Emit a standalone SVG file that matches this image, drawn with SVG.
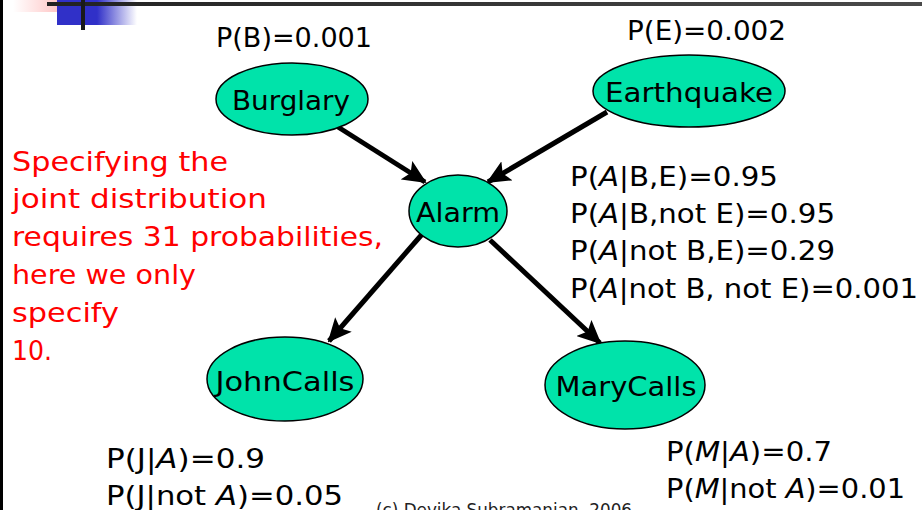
<svg xmlns="http://www.w3.org/2000/svg" width="922" height="510" viewBox="0 0 922 510">
  <defs>
    <linearGradient id="pinkFade" x1="0" y1="0" x2="1" y2="0">
      <stop offset="0" stop-color="#ffb4b4" stop-opacity="0"/>
      <stop offset="1" stop-color="#ffb0b0"/>
    </linearGradient>
    <linearGradient id="blueFade" x1="0" y1="0" x2="1" y2="0">
      <stop offset="0" stop-color="#3030c8"/>
      <stop offset="0.5" stop-color="#3030c8"/>
      <stop offset="1" stop-color="#3030c8" stop-opacity="0"/>
    </linearGradient>
    <linearGradient id="rule" x1="0" y1="0" x2="1" y2="0">
      <stop offset="0" stop-color="#222"/>
      <stop offset="1" stop-color="#4a4a4a"/>
    </linearGradient>
    <marker id="head" markerUnits="userSpaceOnUse" markerWidth="24" markerHeight="22" viewBox="0 0 24 22" refX="22" refY="11" orient="auto">
      <path d="M0,0 L24,11 L0,22 L5,11 Z" fill="#000"/>
    </marker>
    <style>
      .node ellipse { fill: #00e3aa; stroke: #000; stroke-width: 1.5; }
      text { font-family: "DejaVu Sans", "Open Sans", sans-serif; font-size: 27px; fill: #000; }
      .label { text-anchor: middle; }
      .note text { fill: #ff0000; }
      .it { font-style: italic; }
      .edge { stroke: #000; stroke-width: 5; fill: none; marker-end: url(#head); }
      .copy { font-size: 17px; fill: #222; }
    </style>
  </defs>

  <rect width="922" height="510" fill="#fff"/>

  <!-- slide corner ornament and frame -->
  <rect x="13" y="0" width="61" height="12" fill="url(#pinkFade)"/>
  <rect x="57" y="0" width="80" height="25" fill="url(#blueFade)"/>
  <rect x="47" y="2" width="875" height="4" fill="url(#rule)"/>
  <rect x="81" y="0" width="4" height="30" fill="#1a1a1a"/>
  <rect x="0" y="0" width="3" height="510" fill="#000"/>

  <!-- connectors -->
  <g id="connectors">
    <line class="edge" x1="338" y1="127" x2="425" y2="182"/>
    <line class="edge" x1="607" y1="112" x2="488" y2="182"/>
    <line class="edge" x1="424" y1="232" x2="329" y2="341"/>
    <line class="edge" x1="490" y1="240" x2="600" y2="343"/>
  </g>

  <!-- nodes -->
  <g id="burglary" class="node">
    <ellipse cx="292" cy="99" rx="76" ry="36"/>
    <text class="label" x="291" y="110" textLength="118" lengthAdjust="spacingAndGlyphs">Burglary</text>
  </g>
  <g id="earthquake" class="node">
    <ellipse cx="689" cy="91" rx="96" ry="36"/>
    <text class="label" x="689" y="102" textLength="168" lengthAdjust="spacingAndGlyphs">Earthquake</text>
  </g>
  <g id="alarm" class="node">
    <ellipse cx="458" cy="211" rx="49" ry="36"/>
    <text class="label" x="458" y="222" textLength="84" lengthAdjust="spacingAndGlyphs">Alarm</text>
  </g>
  <g id="johncalls" class="node">
    <ellipse cx="285" cy="379" rx="78" ry="42"/>
    <text class="label" x="285" y="391" textLength="139" lengthAdjust="spacingAndGlyphs">JohnCalls</text>
  </g>
  <g id="marycalls" class="node">
    <ellipse cx="625" cy="385" rx="80" ry="44"/>
    <text class="label" x="626" y="396" textLength="141" lengthAdjust="spacingAndGlyphs">MaryCalls</text>
  </g>

  <!-- probability tables -->
  <g id="prior-b">
    <text x="216" y="47" textLength="156" lengthAdjust="spacingAndGlyphs">P(B)=0.001</text>
  </g>
  <g id="prior-e">
    <text x="627" y="40" textLength="159" lengthAdjust="spacingAndGlyphs">P(E)=0.002</text>
  </g>
  <g id="cpt-alarm">
    <text x="570" y="186" textLength="208" lengthAdjust="spacingAndGlyphs">P(<tspan class="it">A</tspan>|B,E)=0.95</text>
    <text x="570" y="223" textLength="265" lengthAdjust="spacingAndGlyphs">P(<tspan class="it">A</tspan>|B,not E)=0.95</text>
    <text x="570" y="260" textLength="265" lengthAdjust="spacingAndGlyphs">P(<tspan class="it">A</tspan>|not B,E)=0.29</text>
    <text x="570" y="298" textLength="348" lengthAdjust="spacingAndGlyphs">P(<tspan class="it">A</tspan>|not B, not E)=0.001</text>
  </g>
  <g id="cpt-john">
    <text x="106" y="468" textLength="159" lengthAdjust="spacingAndGlyphs">P(J|<tspan class="it">A</tspan>)=0.9</text>
    <text x="106" y="505" textLength="237" lengthAdjust="spacingAndGlyphs">P(J|not <tspan class="it">A</tspan>)=0.05</text>
  </g>
  <g id="cpt-mary">
    <text x="666" y="461" textLength="166" lengthAdjust="spacingAndGlyphs">P(<tspan class="it">M</tspan>|<tspan class="it">A</tspan>)=0.7</text>
    <text x="666" y="498" textLength="239" lengthAdjust="spacingAndGlyphs">P(<tspan class="it">M</tspan>|not <tspan class="it">A</tspan>)=0.01</text>
  </g>

  <!-- side note -->
  <g id="note" class="note">
    <text x="12" y="171" textLength="216" lengthAdjust="spacingAndGlyphs">Specifying the</text>
    <text x="12" y="208" textLength="255" lengthAdjust="spacingAndGlyphs">joint distribution</text>
    <text x="12" y="246" textLength="371" lengthAdjust="spacingAndGlyphs">requires 31 probabilities,</text>
    <text x="12" y="284" textLength="184" lengthAdjust="spacingAndGlyphs">here we only</text>
    <text x="12" y="322" textLength="107" lengthAdjust="spacingAndGlyphs">specify</text>
    <text x="12" y="360" textLength="40" lengthAdjust="spacingAndGlyphs">10.</text>
  </g>

  <text class="copy" x="376" y="516" textLength="256" lengthAdjust="spacingAndGlyphs">(c) Devika Subramanian, 2006</text>
</svg>
